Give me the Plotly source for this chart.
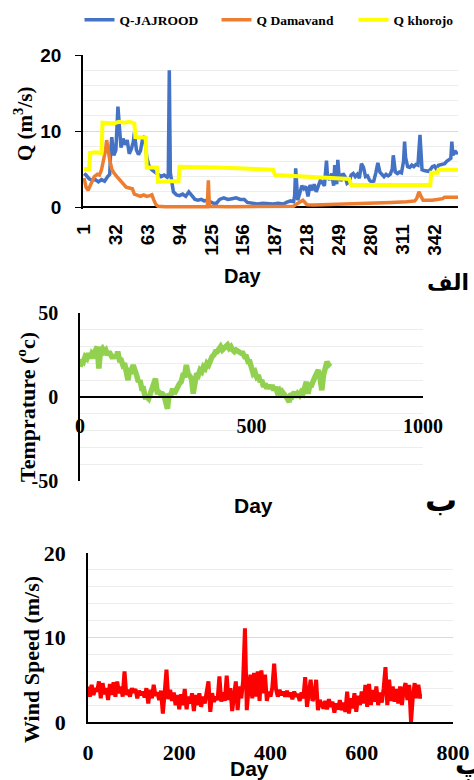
import plotly.graph_objects as go

W, H = 474, 780

# ---------------- panel الف : river discharge ----------------
jaj_day = [
    1, 3, 6, 9, 12, 15, 18, 21, 24, 26,
    27, 28, 30, 32, 34, 35, 37, 39, 41, 43,
    45, 47, 49, 50, 52, 54, 56, 58, 60, 62,
    64, 67, 70, 73, 76, 79, 82, 83, 84, 85,
    86, 88, 91, 94, 97, 100, 103, 106, 109, 112,
    115, 118, 121, 124, 127, 130, 133, 137, 141, 145,
    149, 153, 157, 160, 165, 170, 175, 180, 185, 190,
    195, 198, 202, 205, 206, 207, 208, 209, 211, 213,
    215, 217, 219, 221, 223, 225, 227, 229, 231, 233,
    235, 237, 238, 240, 242, 244, 245, 247, 248, 249,
    251, 253, 255, 257, 259, 261, 263, 265, 267, 269,
    271, 273, 275, 277, 279, 281, 283, 285, 287, 289,
    291, 293, 295, 297, 299, 301, 302, 304, 306, 308,
    310, 312, 313, 314, 316, 318, 320, 322, 324, 326,
    328, 329, 330, 332, 334, 336, 338, 340, 342, 344,
    346, 348, 350, 352, 354, 356, 358, 359, 360, 362,
    364, 365]
jaj_q = [
    4.4, 4.2, 3.7, 3.5, 3.6, 3.3, 3.6, 3.4, 4.0, 4.3,
    7.5, 9.2, 6.8, 7.5, 13.2, 11.5, 7.8, 9.0, 8.2, 8.8,
    7.0, 7.6, 8.6, 9.8, 7.5, 6.9, 7.4, 9.0, 9.3, 6.6,
    5.5, 4.9, 4.6, 4.3, 4.0, 4.2, 3.9, 4.1, 18.0, 4.5,
    3.5, 2.0, 1.6, 1.5, 1.7, 1.4, 2.0, 1.5, 1.0, 0.9,
    1.0, 0.8, 0.9, 0.7, 0.5, 0.5, 1.0, 1.2, 1.0, 1.1,
    1.2, 1.0, 1.0, 0.6, 0.5, 0.4, 0.5, 0.4, 0.4, 0.5,
    0.4, 0.6, 0.8, 0.7, 1.5, 5.1, 2.0, 0.9, 1.8, 2.8,
    2.4, 2.7, 1.4, 2.9, 2.2, 3.0, 2.0, 2.9, 3.5, 3.2,
    2.8, 6.1, 4.0, 3.6, 4.4, 2.8, 5.5, 3.0, 6.2, 4.5,
    3.4, 4.4, 4.0, 3.1, 3.3, 4.2, 4.4, 4.0, 4.3, 3.8,
    5.7, 5.2, 4.0, 4.1, 3.5, 3.3, 3.4, 4.5, 5.8, 4.6,
    4.2, 4.0, 4.3, 4.1, 4.3, 5.0, 6.8, 4.6, 4.4, 4.6,
    4.5, 6.0, 8.6, 6.5, 5.3, 5.2, 5.5, 5.3, 5.6, 5.5,
    9.5, 7.0, 4.9, 4.8, 4.8, 4.7, 4.9, 5.3, 5.4, 5.0,
    5.5, 5.6, 5.6, 5.7, 6.0, 6.2, 6.4, 8.6, 6.8, 7.4,
    7.0, 7.3]

dam_day = [
    1, 3, 5, 7, 9, 11, 14, 16, 18, 20,
    22, 23, 24, 26, 28, 30, 33, 36, 39, 42,
    45, 48, 50, 53, 56, 59, 62, 65, 67, 69,
    71, 73, 80, 100, 121, 122, 123, 140, 170, 205,
    208, 211, 214, 216, 218, 225, 240, 260, 280, 300,
    315, 323, 325, 327, 329, 331, 340, 350, 352, 365]
dam_q = [
    3.8, 2.6, 2.2, 2.9, 3.5, 4.0, 4.3, 4.2, 4.9, 6.0,
    7.5, 8.8, 7.8, 6.2, 5.0, 4.5, 4.0, 3.5, 3.0, 2.6,
    2.5, 2.4, 1.7, 1.5, 1.4, 1.6, 1.4, 1.5, 1.6, 0.9,
    0.3, 0.1, 0.05, 0.05, 0.05, 3.5, 0.1, 0.05, 0.05, 0.1,
    0.4, 0.7, 0.9, 0.6, 0.3, 0.25, 0.3, 0.4, 0.5, 0.6,
    0.7, 0.8, 1.2, 2.0, 1.4, 0.9, 0.9, 1.1, 1.3, 1.3]

kho_day = [
    1, 6, 7, 12, 18, 19, 30, 35, 40, 45,
    50, 51, 61, 62, 72, 73, 85, 93, 94, 110,
    130, 150, 170, 185, 187, 200, 220, 240, 259, 261,
    280, 300, 320, 338, 339, 345, 346, 365]
kho_q = [
    5.0, 5.0, 7.1, 7.2, 7.1, 11.1, 11.0, 11.2, 11.1, 11.2,
    11.0, 9.2, 9.1, 5.2, 5.2, 3.3, 3.4, 3.4, 5.3, 5.2,
    5.2, 5.1, 5.0, 4.9, 4.2, 4.1, 3.9, 3.8, 3.7, 2.9,
    2.9, 2.8, 2.9, 2.9, 4.5, 4.5, 4.9, 4.9]

q_ticks = [1, 32, 63, 94, 125, 156, 187, 218, 249, 280, 311, 342]

# ---------------- panel ب : air temperature (5-day steps) ----------------
temp_day = list(range(0, 731, 5))
temp_c = [
    18, 22, 21, 24, 23, 26, 23, 26, 25, 28,
    30, 17, 28, 29, 27, 28, 25, 27, 24, 23,
    25, 23, 27, 22, 22, 19, 20, 16, 10, 17,
    16, 19, 14, 13, 9, 10, 5, 5, 0, 0,
    -1, 2, 3, 8, 11, 3, 3, 2, 2, 1,
    -2, -7, 2, 1, 5, 2, 4, 7, 8, 9,
    13, 13, 19, 14, 13, 11, 2, 12, 14, 13,
    16, 15, 18, 17, 20, 19, 22, 24, 25, 27,
    27, 28, 30, 28, 29, 30, 31, 29, 30, 28,
    27, 28, 27, 27, 26, 26, 24, 24, 21, 21,
    18, 14, 15, 12, 13, 9, 10, 6, 8, 5,
    7, 5, 7, 4, 6, 3, 4, 1, 3, 2,
    1, -1, -3, 2, 1, 3, 0, 2, 1, 3,
    2, 6, 9, 2, 7, 7, 11, 12, 14, 16,
    11, 4, 13, 19, 21, 19, 18]
temp_ticks = [-50, 0, 50]
temp_tick_text = ["-50", "0", "50"]

# ---------------- panel پ : wind speed (4-day steps) ----------------
wind_day = list(range(0, 733, 4))
wind_ms = [
    4.2, 3.0, 4.4, 3.2, 4.0, 3.6, 4.8, 2.8, 4.6, 3.3,
    4.0, 2.6, 4.5, 3.2, 4.7, 3.0, 4.8, 3.4, 4.2, 3.0,
    6.0, 3.2, 3.8, 3.0, 4.0, 3.5, 3.9, 2.8, 3.7, 3.2,
    3.6, 2.9, 4.0, 2.2, 3.8, 2.8, 4.4, 3.1, 3.5, 2.6,
    3.7, 1.0, 3.4, 6.2, 2.7, 3.8, 2.5, 3.5, 2.0, 3.2,
    1.5, 3.3, 2.0, 3.9, 1.5, 3.0, 2.2, 3.4, 1.3, 3.2,
    2.0, 3.4, 1.8, 3.0, 2.2, 3.5, 4.8, 1.2, 3.4, 2.4,
    3.0, 2.6, 5.4, 2.4, 3.5, 2.5, 5.5, 2.6, 4.0, 1.3,
    3.5, 4.8, 1.4, 4.2, 2.8, 4.9, 11.1, 1.4, 4.0, 5.6,
    2.8, 5.8, 3.0, 6.0, 2.5, 6.1, 3.4, 5.6, 2.5, 3.6,
    3.0, 4.1, 6.9, 3.9, 3.0, 3.8, 3.2, 3.6, 3.0, 3.7,
    3.0, 3.5, 2.7, 3.6, 3.0, 3.3, 2.5, 3.5, 2.8, 5.3,
    1.8, 3.4, 5.0, 2.5, 3.0, 5.0, 1.4, 2.6, 2.2, 1.6,
    2.5, 1.5, 2.7, 1.8, 2.4, 1.1, 2.2, 1.5, 2.6, 1.4,
    2.3, 1.2, 3.6, 1.0, 2.8, 1.6, 3.4, 1.2, 3.1, 2.0,
    3.6, 2.2, 4.4, 1.8, 4.5, 2.0, 3.8, 2.4, 4.2, 2.0,
    3.5, 2.3, 4.0, 6.5, 2.0, 5.0, 2.5, 4.2, 2.4, 3.9,
    2.2, 4.2, 2.0, 3.8, 4.6, 2.6, 4.4, 0.0, 3.0, 4.6,
    2.8, 4.4, 3.0, 3.0]


def px(x):
    return x / W


def py(y):
    return 1 - y / H


SANS = "Liberation Sans"
SERIF = "Liberation Serif"
ARAB = "DejaVu Sans"
GRID = "#D9D9D9"
MINOR = "#EDEDED"

fig = go.Figure()

fig.add_trace(go.Scatter(x=jaj_day, y=jaj_q, name="Q-JAJROOD", mode="lines",
                         line=dict(color="#4472C4", width=3.5), xaxis="x", yaxis="y"))
fig.add_trace(go.Scatter(x=dam_day, y=dam_q, name="Q Damavand", mode="lines",
                         line=dict(color="#ED7D31", width=3.5), xaxis="x", yaxis="y"))
fig.add_trace(go.Scatter(x=kho_day, y=kho_q, name="Q khorojo", mode="lines",
                         line=dict(color="#FFFF00", width=4), xaxis="x", yaxis="y"))
fig.add_trace(go.Scatter(x=temp_day, y=temp_c, mode="lines", showlegend=False,
                         line=dict(color="#92D050", width=5.5), xaxis="x2", yaxis="y2"))
fig.add_trace(go.Scatter(x=wind_day, y=wind_ms, mode="lines", showlegend=False,
                         line=dict(color="#FF0000", width=4), xaxis="x3", yaxis="y3"))

fig.update_layout(
    width=W, height=H,
    margin=dict(l=0, r=0, t=0, b=0, autoexpand=False),
    paper_bgcolor="white", plot_bgcolor="white",
    showlegend=True,
    legend=dict(orientation="h", xref="container", yref="container",
                x=px(285), xanchor="center", y=py(20), yanchor="middle",
                font=dict(family=SERIF, size=13.5, color="black", weight="bold"),
                entrywidth=92, itemwidth=30, bgcolor="rgba(0,0,0,0)"),
    # discharge axes
    xaxis=dict(domain=[px(83), px(458)], range=[0, 365], anchor="y", automargin=False,
               tickmode="array", tickvals=q_ticks, tickangle=-90,
               tickfont=dict(family=SANS, size=19, color="black", weight="bold"),
               showgrid=False, zeroline=False, showline=False, ticks="",
               ticklabelstandoff=10),
    yaxis=dict(domain=[py(209.3), py(55)], range=[-0.3, 20], anchor="x", automargin=False,
               tick0=0, dtick=10, ticks="outside", ticklen=6, tickcolor="black",
               tickfont=dict(family=SANS, size=19, color="black", weight="bold"),
               showline=True, linecolor="black", linewidth=1.5,
               showgrid=True, gridcolor=GRID, gridwidth=1,
               minor=dict(dtick=2, showgrid=True, gridcolor=MINOR, ticks=""),
               zeroline=True, zerolinecolor="black", zerolinewidth=1.5,
               ticklabelstandoff=10),
    # temperature axes
    xaxis2=dict(domain=[px(80), px(423)], range=[0, 1000], anchor="free", position=py(397),
                automargin=False, tick0=0, dtick=500, ticks="",
                tickfont=dict(family=SERIF, size=20, color="black", weight="bold"),
                showgrid=False, zeroline=False, showline=True, linecolor="black",
                linewidth=1.5, ticklabelstandoff=11),
    yaxis2=dict(domain=[py(481), py(313)], range=[-50, 50], anchor="x2", automargin=False,
                tickmode="array", tickvals=temp_ticks, ticktext=temp_tick_text, ticks="",
                tickfont=dict(family=SERIF, size=20, color="black", weight="bold"),
                showline=True, linecolor="black", linewidth=1.5,
                showgrid=True, gridcolor=GRID,
                minor=dict(tick0=0, dtick=10, showgrid=True, gridcolor=MINOR, ticks=""),
                zeroline=False, ticklabelstandoff=16),
    # wind axes
    xaxis3=dict(domain=[px(88), px(453)], range=[0, 800], anchor="y3", automargin=False,
                tick0=0, dtick=200, ticks="",
                tickfont=dict(family=SERIF, size=22, color="black", weight="bold"),
                showgrid=False, zeroline=False, showline=True, linecolor="black",
                linewidth=1.5, ticklabelstandoff=10),
    yaxis3=dict(domain=[py(722), py(553)], range=[0, 20], anchor="x3", automargin=False,
                tick0=0, dtick=10, ticks="",
                tickfont=dict(family=SERIF, size=22, color="black", weight="bold"),
                showline=True, linecolor="black", linewidth=1.5,
                showgrid=True, gridcolor=GRID,
                minor=dict(dtick=2, showgrid=True, gridcolor=MINOR, ticks=""),
                zeroline=False, ticklabelstandoff=16),
)


def label(text, x, y, family, size, angle=0):
    fig.add_annotation(text=text, x=px(x), y=py(y), xref="paper", yref="paper",
                       xanchor="center", yanchor="middle", showarrow=False,
                       textangle=angle,
                       font=dict(family=family, size=size, color="black", weight="bold"))


label("Q (m<sup>3</sup>/s)", 24, 124, SERIF, 21, -90)
label("Day", 243, 276, SANS, 20)
label("الف", 448, 282, ARAB, 22)

label("Temprature (<sup>o</sup>c)", 26, 407, SERIF, 22, -90)
label("Day", 253, 505, SANS, 21)
label("ب", 441, 500, ARAB, 32)

label("Wind Speed (m/s)", 31, 660, SERIF, 22, -90)
label("Day", 249, 768, SANS, 21)
label("پ", 469, 764, ARAB, 28)

fig.write_html("out.html")
